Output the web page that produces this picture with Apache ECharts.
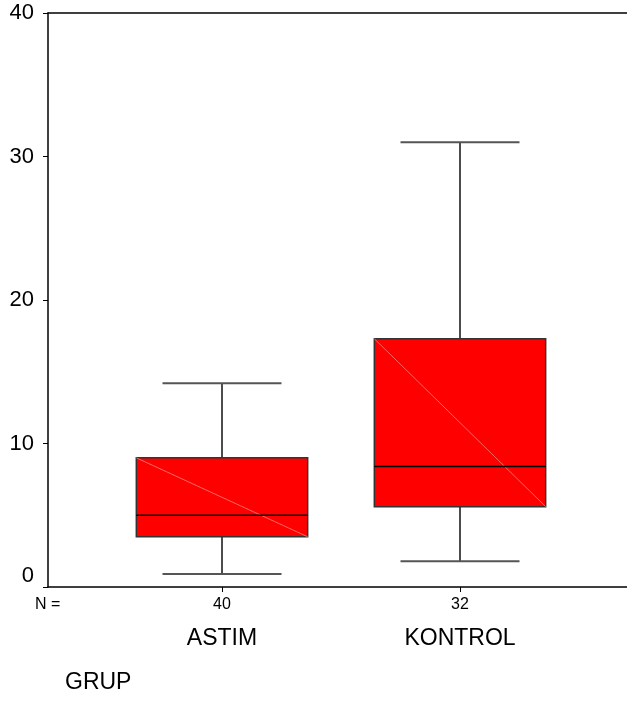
<!DOCTYPE html>
<html>
<head>
<meta charset="utf-8">
<script src="https://cdn.jsdelivr.net/npm/echarts@6/dist/echarts.min.js"></script>
<style>
html,body{margin:0;padding:0;background:#fff;}
#chart{width:627px;height:728px;}
</style>
</head>
<body>
<div id="chart"></div>
<script>
const categories = ['ASTIM', 'KONTROL'];
const nCounts = [40, 32];
const lowWhisker = [0.9, 1.8];
const q1Values = [3.5, 5.6];
const medianValues = [5.0, 8.4];
const q3Values = [9.0, 17.3];
const highWhisker = [14.2, 31.0];
const yTicks = [0, 10, 20, 30, 40];

const FONT = '"Liberation Sans", Arial, sans-serif';

const boxData = categories.map((c, i) => [i, lowWhisker[i], q1Values[i], medianValues[i], q3Values[i], highWhisker[i]]);

function renderBox(params, api) {
  const x = api.value(0);
  const band = api.size([1, 0])[0];
  const boxW = band * 0.72;
  const capW = band * 0.5;
  const lo = api.coord([x, api.value(1)]);
  const q1 = api.coord([x, api.value(2)]);
  const md = api.coord([x, api.value(3)]);
  const q3 = api.coord([x, api.value(4)]);
  const hi = api.coord([x, api.value(5)]);
  const cx = lo[0];
  const left = cx - boxW / 2, right = cx + boxW / 2;
  return {
    type: 'group',
    children: [
      { type: 'line', shape: { x1: cx, y1: q3[1], x2: cx, y2: hi[1] }, style: { stroke: '#111', lineWidth: 1.5 } },
      { type: 'line', shape: { x1: cx, y1: q1[1], x2: cx, y2: lo[1] }, style: { stroke: '#111', lineWidth: 1.5 } },
      { type: 'line', shape: { x1: cx - capW / 2, y1: hi[1], x2: cx + capW / 2, y2: hi[1] }, style: { stroke: '#555', lineWidth: 2 } },
      { type: 'line', shape: { x1: cx - capW / 2, y1: lo[1], x2: cx + capW / 2, y2: lo[1] }, style: { stroke: '#555', lineWidth: 2 } },
      { type: 'rect', shape: { x: left, y: q3[1], width: boxW, height: q1[1] - q3[1] }, style: { fill: '#ff0000', stroke: '#333', lineWidth: 1.5 } },
      { type: 'line', shape: { x1: left, y1: q3[1], x2: right, y2: q1[1] }, style: { stroke: 'rgba(255,150,150,0.85)', lineWidth: 0.8 } },
      { type: 'line', shape: { x1: left, y1: md[1], x2: right, y2: md[1] }, style: { stroke: '#000', lineWidth: 1.5 } }
    ]
  };
}

const chart = echarts.init(document.getElementById('chart'), null, { renderer: 'canvas' });
chart.setOption({
  backgroundColor: '#fff',
  animation: false,
  grid: [
    { left: 48, right: 0, top: 13, bottom: 141 },
    { left: 103, width: 476, top: 13, bottom: 141 }
  ],
  xAxis: [
    { gridIndex: 0, type: 'value', min: 0, max: 1, position: 'bottom',
      axisLine: { show: true, lineStyle: { color: '#000', width: 1.5 } },
      axisTick: { show: false }, axisLabel: { show: false }, splitLine: { show: false } },
    { gridIndex: 0, type: 'value', min: 0, max: 1, position: 'top',
      axisLine: { show: true, lineStyle: { color: '#000', width: 1.5 } },
      axisTick: { show: false }, axisLabel: { show: false }, splitLine: { show: false } },
    { gridIndex: 1, type: 'category', data: categories, position: 'bottom',
      axisLine: { show: false },
      axisTick: { show: true, alignWithLabel: true, length: 5, lineStyle: { color: '#000', width: 1 } },
      splitLine: { show: false },
      axisLabel: {
        margin: 8,
        formatter: (v, i) => '{n|' + nCounts[i] + '}\n{c|' + v + '}',
        rich: {
          n: { fontSize: 16, fontFamily: FONT, color: '#000', lineHeight: 20 },
          c: { fontSize: 23, fontFamily: FONT, color: '#000', lineHeight: 48 }
        }
      } }
  ],
  yAxis: [
    { gridIndex: 0, type: 'value', min: 0, max: 40, interval: 10,
      axisLine: { show: true, lineStyle: { color: '#000', width: 1.5 } },
      axisTick: { show: true, length: 5, lineStyle: { color: '#000', width: 1 } },
      splitLine: { show: false },
      axisLabel: { margin: 14, fontSize: 22, fontFamily: FONT, color: '#000',
        verticalAlignMinLabel: 'bottom',
        formatter: v => yTicks.includes(v) ? String(v) : '' } },
    { gridIndex: 1, type: 'value', min: 0, max: 40, show: false }
  ],
  graphic: [
    { type: 'text', left: 35, top: 597, style: { text: 'N =', fontSize: 16, fontFamily: FONT, fill: '#000' } },
    { type: 'text', left: 65, top: 671, style: { text: 'GRUP', fontSize: 23, fontFamily: FONT, fill: '#000' } }
  ],
  series: [
    { type: 'custom', xAxisIndex: 2, yAxisIndex: 1, renderItem: renderBox, data: boxData, encode: { x: 0, y: [1, 2, 3, 4, 5] } }
  ]
});
</script>
</body>
</html>
